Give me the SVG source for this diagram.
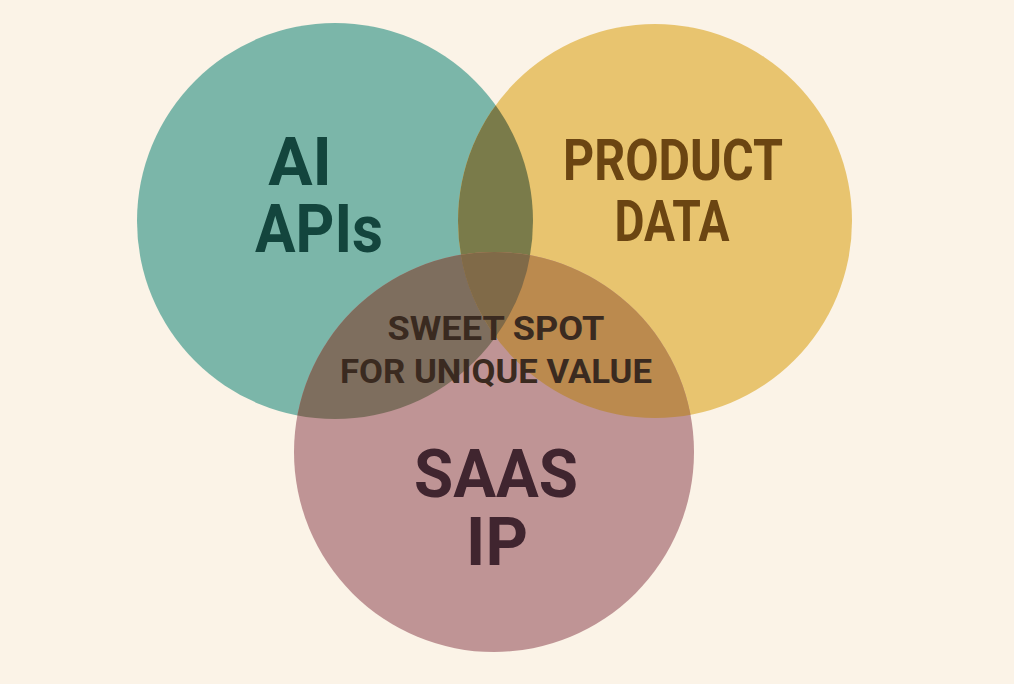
<svg xmlns="http://www.w3.org/2000/svg" width="1014" height="684" viewBox="0 0 1014 684">
<style>
text{font-family:Roboto,"Liberation Sans",sans-serif;font-weight:bold;text-anchor:middle}
.big{font-size:66px}
.mid{font-size:58px;fill:#6b4512}
.sm{font-size:34px;fill:#3a2a20}
</style>
<defs>
<clipPath id="cT"><circle cx="335" cy="221" r="198"/></clipPath>
<clipPath id="cY"><circle cx="655" cy="221" r="197"/></clipPath>
<clipPath id="cTY" clip-path="url(#cT)"><circle cx="655" cy="221" r="197"/></clipPath>
</defs>
<rect width="1014" height="684" fill="#fbf3e7"/>
<g id="ai-apis">
<circle cx="335" cy="221" r="198" fill="#7bb6a9"/>
</g>
<g id="product-data">
<circle cx="655" cy="221" r="197" fill="#e8c46f"/>
<circle cx="655" cy="221" r="197" fill="#7a7b4a" clip-path="url(#cT)"/>
</g>
<g id="saas-ip">
<circle cx="494" cy="452" r="200" fill="#bf9495"/>
<circle cx="494" cy="452" r="200" fill="#7e6e5e" clip-path="url(#cT)"/>
<circle cx="494" cy="452" r="200" fill="#bb8a4e" clip-path="url(#cY)"/>
<circle cx="494" cy="452" r="200" fill="#806a48" clip-path="url(#cTY)"/>
</g>
<g id="labels">
<text class="big" x="300" y="185" fill="#13453d">AI</text>
<text class="big" x="319" y="252" fill="#13453d" textLength="128" lengthAdjust="spacingAndGlyphs">APIs</text>
<text class="mid" x="673" y="180" textLength="220" lengthAdjust="spacingAndGlyphs">PRODUCT</text>
<text class="mid" x="672" y="241" textLength="115" lengthAdjust="spacingAndGlyphs">DATA</text>
<text class="big" x="496" y="497" fill="#40252f" textLength="164" lengthAdjust="spacingAndGlyphs">SAAS</text>
<text class="big" x="497" y="565" fill="#40252f">IP</text>
<text class="sm" x="496" y="340" textLength="217" lengthAdjust="spacingAndGlyphs">SWEET SPOT</text>
<text class="sm" x="496" y="383" textLength="312" lengthAdjust="spacingAndGlyphs">FOR UNIQUE VALUE</text>
</g>
<g id="connectors"/>
</svg>
